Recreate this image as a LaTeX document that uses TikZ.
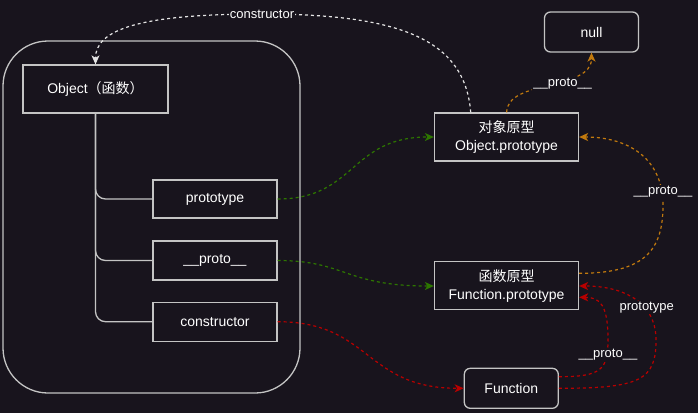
\documentclass[tikz,border=0pt]{standalone}
\usepackage{fontspec}
\setmainfont{Liberation Sans}
\newfontfamily\cjk{Noto Sans CJK SC}
\usetikzlibrary{arrows.meta,calc}
\definecolor{bg}{HTML}{18141D}
\definecolor{boxc}{HTML}{C4C4C4}
\definecolor{wline}{HTML}{E4E4E4}
\definecolor{gline}{HTML}{2D7600}
\definecolor{oline}{HTML}{C27A0E}
\definecolor{rline}{HTML}{B80000}
\tikzset{
  box/.style={draw=boxc, line width=1.3pt, fill=bg, text=white, inner sep=0pt,
    font=\fontsize{14}{18}\selectfont, align=center},
  rbox/.style={box, rounded corners=6pt},
  cont/.style={draw=boxc, line width=1.3pt, rounded corners=45pt, inner sep=0pt},
  tree/.style={draw=boxc, line width=1.3pt, rounded corners=10pt},
  link/.style={dash pattern=on 3pt off 3pt, line width=1.2pt,
    -{Stealth[length=9pt,width=8pt,inset=2.5pt]}},
  lbl/.style={fill=bg, text=white, inner sep=1pt, font=\fontsize{13}{15}\selectfont}
}
\begin{document}
\begin{tikzpicture}[x=1pt,y=-1pt]
\fill[bg] (0,0) rectangle (698,413);
\useasboundingbox (0,0) rectangle (698,413);

% container
\node[cont, minimum width=297pt, minimum height=352pt] (grp) at (151.5,217) {};

% nodes
\node[box, minimum width=145pt, minimum height=48pt] (ob) at (95.5,89) {Object{\cjk （函数）}};
\node[box, minimum width=124pt, minimum height=38pt] (pt) at (215,199) {prototype};
\node[box, minimum width=124pt, minimum height=39pt] (pp) at (215,260.5) {\_\_proto\_\_};
\node[box, minimum width=124pt, minimum height=39pt] (pc) at (215,321.7) {constructor};
\node[box, minimum width=144pt, minimum height=48pt] (op) at (506.5,137) {{\cjk 对象原型}\\Object.prototype};
\node[rbox, minimum width=94pt, minimum height=40pt] (nl) at (591.5,32) {null};
\node[box, minimum width=144pt, minimum height=48pt] (fp) at (506.5,285.7) {{\cjk 函数原型}\\Function.prototype};
\node[rbox, minimum width=94pt, minimum height=40pt] (fn) at (511.3,388.3) {Function};

% tree lines
\draw[tree] (ob.south) |- (pt.west);
\draw[tree] (ob.south) |- (pp.west);
\draw[tree] (ob.south) |- (pc.west);

% coordinates for labels
\coordinate (c1) at (262,14);
\coordinate (c3) at (663,205);
\coordinate (c4) at (608,340);
\coordinate (c5) at (656,340);

% white constructor edge
\draw[link, draw=wline] ([xshift=-35.8pt]op.north) .. controls +(-5.7,-73) and +(138,0) .. (c1)
   .. controls +(-122,0) and +(0,-35) .. (ob.north);
\node[lbl] (l1) at (c1) {constructor};

% orange to null
\draw[link, draw=oline] ([xshift=0.2pt]op.north) .. controls +(0,-33) and +(0,38) .. (nl.south);
\node[lbl] (l2) at (562.7,84) {\_\_proto\_\_};

% orange Function.prototype -> Object.prototype
\draw[link, draw=oline] ([yshift=12.4pt]fp.east) .. controls +(66,0) and +(0,45) .. (c3)
   .. controls +(0,-45) and +(51,0) .. (op.east);
\node[lbl] (l3) at (663,192) {\_\_proto\_\_};

% green edges
\draw[link, draw=gline] (pt.east) .. controls +(78,0) and +(-84,0) .. (op.west);
\draw[link, draw=gline] (pp.east) .. controls +(68,0) and +(-89,0) .. ([yshift=-0.3pt]fp.west);

% red constructor -> Function
\draw[link, draw=rline] (pc.east) .. controls +(93,0) and +(-99,0) .. (fn.west);

% red Function -> Function.prototype (__proto__)
\draw[link, draw=rline] ([yshift=11.6pt]fn.east) .. controls +(42,0) and +(0,30) .. (c4)
   .. controls +(0,-35) and +(21,0) .. ([yshift=-11.6pt]fp.east);
\node[lbl] (l4) at (608,355) {\_\_proto\_\_};

% red Function -> Function.prototype (prototype)
\draw[link, draw=rline] (fn.east) .. controls +(82,0) and +(0,40) .. (c5)
   .. controls +(0,-40) and +(41,0) .. ([yshift=-0.3pt]fp.east);
\node[lbl] (l5) at (646.7,307.7) {prototype};
\end{tikzpicture}
\end{document}
